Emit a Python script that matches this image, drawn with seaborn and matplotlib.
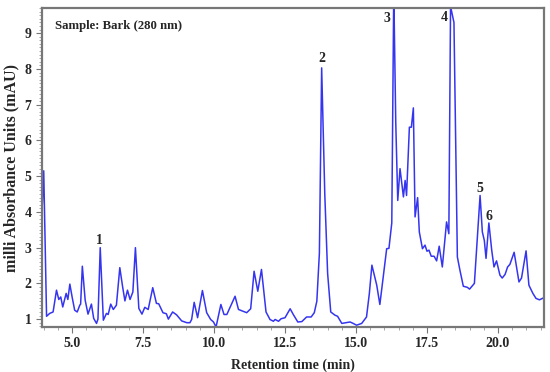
import pandas as pd
import numpy as np
import matplotlib
matplotlib.use('Agg')
import matplotlib.pyplot as plt
import seaborn as sns
from matplotlib.ticker import MultipleLocator, FormatStrFormatter

sns.set_style('ticks')
plt.rcParams['font.family'] = ['Liberation Serif', 'DejaVu Serif']
plt.rcParams['font.weight'] = 'bold'

# --- data ---
rt_min = [3.95, 4.0, 4.10, 4.21, 4.33, 4.45, 4.53, 4.60, 4.67, 4.79, 4.85, 4.92, 5.0,
          5.09, 5.18, 5.27, 5.30, 5.36, 5.46, 5.56, 5.68, 5.76, 5.86, 5.91, 5.99, 6.10,
          6.21, 6.27, 6.36, 6.45, 6.56, 6.68, 6.78, 6.86, 6.95, 7.04, 7.14, 7.23, 7.35,
          7.46, 7.56, 7.68, 7.84, 7.97, 8.05, 8.20, 8.32, 8.39, 8.54, 8.68, 8.86, 9.04,
          9.15, 9.21, 9.30, 9.42, 9.59, 9.74, 9.88, 9.98, 10.07, 10.24, 10.35, 10.45,
          10.74, 10.86, 11.15, 11.29, 11.41, 11.54, 11.67, 11.83, 11.97, 12.09, 12.15,
          12.27, 12.36, 12.50, 12.68, 12.79, 12.95, 13.09, 13.26, 13.42, 13.53, 13.62,
          13.71, 13.79, 13.90, 14.00, 14.11, 14.26, 14.35, 14.50, 14.65, 14.79, 14.90,
          15.02, 15.20, 15.37, 15.47, 15.56, 15.73, 15.84, 16.08, 16.16, 16.26, 16.33,
          16.40, 16.47, 16.55, 16.67, 16.73, 16.78, 16.88, 16.95, 17.02, 17.08, 17.17,
          17.23, 17.34, 17.43, 17.50, 17.57, 17.65, 17.75, 17.84, 17.93, 18.04, 18.13,
          18.19, 18.27, 18.33, 18.45, 18.57, 18.66, 18.78, 18.92, 19.00, 19.17, 19.37,
          19.45, 19.52, 19.58, 19.68, 19.78, 19.86, 19.95, 20.07, 20.15, 20.25, 20.34,
          20.42, 20.57, 20.74, 20.83, 20.99, 21.09, 21.23, 21.34, 21.46, 21.62]
mau = [4.2, 5.15, 1.08, 1.16, 1.2, 1.81, 1.55, 1.62, 1.34, 1.72, 1.55, 1.98, 1.62,
       1.25, 1.2, 1.39, 1.42, 2.48, 1.53, 1.14, 1.42, 1.02, 0.88, 1.0, 3.0, 0.97,
       1.16, 1.13, 1.42, 1.27, 1.39, 2.44, 1.9, 1.51, 1.81, 1.55, 1.76, 3.0, 1.3,
       1.14, 1.33, 1.27, 1.88, 1.44, 1.43, 1.18, 1.15, 1.0, 1.2, 1.12, 0.95, 0.9,
       0.9, 0.99, 1.47, 1.04, 1.8, 1.18, 0.99, 0.92, 0.78, 1.41, 1.13, 1.13,
       1.64, 1.27, 1.18, 1.29, 2.34, 1.78, 2.39, 1.2, 0.99, 0.94, 0.99,
       0.94, 1.01, 1.04, 1.29, 1.13, 0.92, 0.93, 1.06, 1.06, 1.18, 1.5,
       2.85, 8.03, 4.5, 2.28, 1.2, 1.11, 1.08, 0.88, 0.90, 0.92, 0.88,
       0.83, 0.88, 1.06, 1.72, 2.51, 1.95, 1.41, 2.97, 2.98, 3.69, 10.2,
       6.5, 4.32, 5.21, 4.42, 4.88, 4.46, 6.37, 6.37, 6.91, 3.86, 4.4,
       3.44, 2.97, 3.07, 2.9, 2.93, 2.76, 2.76, 2.63, 3.04, 2.46, 3.21,
       3.72, 3.39, 9.75, 9.3, 2.74, 2.37, 1.92, 1.89, 1.84, 2.0, 4.46,
       3.44, 3.2, 2.7, 3.69, 2.93, 2.46, 2.63, 2.23, 2.15, 2.25, 2.46,
       2.53, 2.87, 2.04, 2.15, 2.91, 1.95, 1.72, 1.58, 1.54, 1.6]

peak_ids = ['1', '2', '3', '4', '5', '6']
peak_rt = [5.96, 13.80, 16.09, 18.10, 19.37, 19.68]
peak_y = [3.2, 8.29, 9.4, 9.43, 4.66, 3.88]

df = pd.DataFrame({'rt': rt_min, 'mau': mau})

fig = plt.figure(figsize=(5.5, 3.72), dpi=100)
ax = fig.add_axes([0.0764, 0.121, 0.9126, 0.857])
sns.lineplot(data=df, x='rt', y='mau', color='#3535f0', linewidth=1.1, ax=ax)

ax.set_xlim(3.94, 21.62)
ax.set_ylim(0.78, 9.7)
ax.xaxis.set_major_locator(MultipleLocator(2.5))
ax.xaxis.set_minor_locator(MultipleLocator(0.5))
ax.yaxis.set_major_locator(MultipleLocator(1))
ax.yaxis.set_minor_locator(MultipleLocator(0.1))
ax.xaxis.set_major_formatter(FormatStrFormatter('%.1f'))
ax.tick_params(which='major', length=4, width=0.8, color='#777777', labelsize=10)
ax.tick_params(which='minor', length=2, width=0.6, color='#999999')
for s in ax.spines.values():
    s.set_visible(True)
    s.set_color('#777777')
    s.set_linewidth(1.6)

ax.set_xlabel('Retention time (min)', fontsize=10, fontweight='bold', labelpad=6)
ax.set_ylabel('milli Absorbance Units (mAU)', fontsize=11.5, fontweight='bold', labelpad=4)

ax.text(0.025, 0.945, 'Sample: Bark (280 nm)', transform=ax.transAxes,
        fontsize=9.2, fontweight='bold', va='center', ha='left')
for lab, px, py in zip(peak_ids, peak_rt, peak_y):
    ax.text(px, py, lab, fontsize=10, fontweight='bold', ha='center', va='center')

fig.savefig('out.png', dpi=100)
